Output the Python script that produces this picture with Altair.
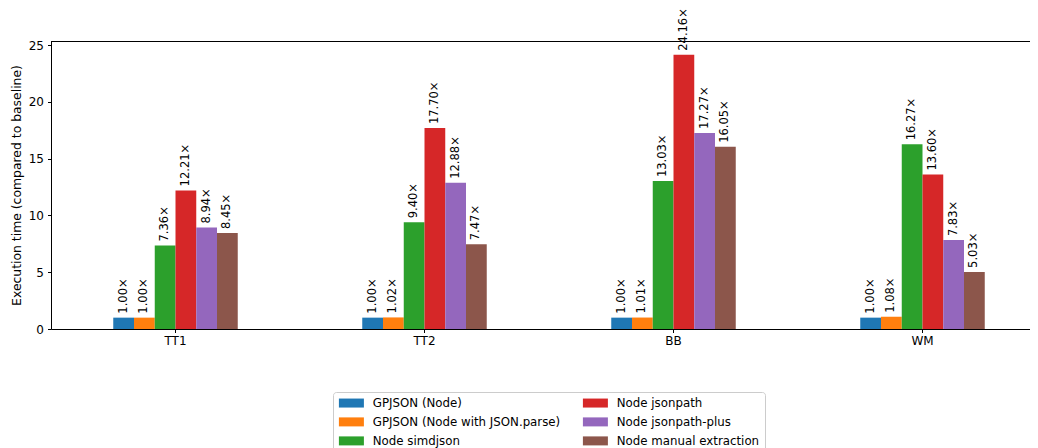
import altair as alt
import pandas as pd

groups = ["TT1", "TT2", "BB", "WM"]
series = [
    "GPJSON (Node)",
    "GPJSON (Node with JSON.parse)",
    "Node simdjson",
    "Node jsonpath",
    "Node jsonpath-plus",
    "Node manual extraction",
]
colors = ["#1f77b4", "#ff7f0e", "#2ca02c", "#d62728", "#9467bd", "#8c564b"]

gpjson_node = [1.00, 1.00, 1.00, 1.00]
gpjson_parse = [1.00, 1.02, 1.01, 1.08]
node_simdjson = [7.36, 9.40, 13.03, 16.27]
node_jsonpath = [12.21, 17.70, 24.16, 13.60]
node_jsonpath_plus = [8.94, 12.88, 17.27, 7.83]
node_manual = [8.45, 7.47, 16.05, 5.03]

all_values = [gpjson_node, gpjson_parse, node_simdjson, node_jsonpath,
              node_jsonpath_plus, node_manual]

rows = []
for s, vals in zip(series, all_values):
    for g, v in zip(groups, vals):
        rows.append({"group": g, "series": s, "value": v, "label": f"{v:.2f}×"})
df = pd.DataFrame(rows)

x_enc = alt.X(
    "group:N",
    sort=groups,
    scale=alt.Scale(paddingInner=0.5, paddingOuter=0.25, range=[0, 996]),
    axis=alt.Axis(title=None, labelAngle=0, tickSize=3.5, labelPadding=3,
                  domainColor="#000000", tickColor="#000000"),
)
xoff = alt.XOffset("series:N", sort=series)
y_enc = alt.Y(
    "value:Q",
    scale=alt.Scale(domain=[0, 25.37], nice=False, zero=True),
    axis=alt.Axis(values=[0, 5, 10, 15, 20, 25], grid=False, tickSize=3.5,
                  labelPadding=4, title="Execution time (compared to baseline)",
                  titlePadding=5, titleFontSize=12.4,
                  domainColor="#000000", tickColor="#000000"),
)

bars = alt.Chart(df).mark_bar().encode(
    x=x_enc,
    xOffset=xoff,
    y=y_enc,
    color=alt.Color(
        "series:N",
        scale=alt.Scale(domain=series, range=colors),
        legend=alt.Legend(
            title=None,
            orient="none",
            legendX=282,
            legendY=351,
            columns=2,
            symbolType="M-1,-0.9H4V0.9H-1Z",
            symbolSize=100,
            symbolStrokeWidth=0,
            symbolOpacity=1,
            labelFontSize=11.8,
            labelColor="#000000",
            labelOffset=23,
            labelLimit=0,
            strokeColor="#cccccc",
            fillColor="#ffffff",
            padding=5,
            cornerRadius=3,
            columnPadding=21,
            rowPadding=6,
        ),
    ),
)

labels = alt.Chart(df).mark_text(
    angle=270, align="left", baseline="middle", dx=4, fontSize=11.5, color="#000000"
).encode(
    x=alt.X("group:N", sort=groups),
    xOffset=xoff,
    y="value:Q",
    text="label:N",
)

top_rule = alt.Chart(df).mark_rule(color="#000000", strokeWidth=1).encode(
    x=alt.value(0), x2=alt.value(996), y=alt.value(0.5)
)

chart = (
    alt.layer(bars, labels, top_rule)
    .properties(
        width=979,
        height=288,
        autosize=alt.AutoSizeParams(type="none"),
        padding={"left": 43, "top": 33, "right": 0, "bottom": 119},
    )
    .configure(font="DejaVu Sans")
    .configure_view(stroke=None)
    .configure_axis(labelFontSize=12, titleFontSize=12, titleFontWeight="normal",
                    labelColor="#000000", titleColor="#000000", labelFont="DejaVu Sans",
                    titleFont="DejaVu Sans")
    .configure_legend(labelFont="DejaVu Sans")
)

chart.save("out.html", embed_options={"renderer": "svg", "actions": False})
